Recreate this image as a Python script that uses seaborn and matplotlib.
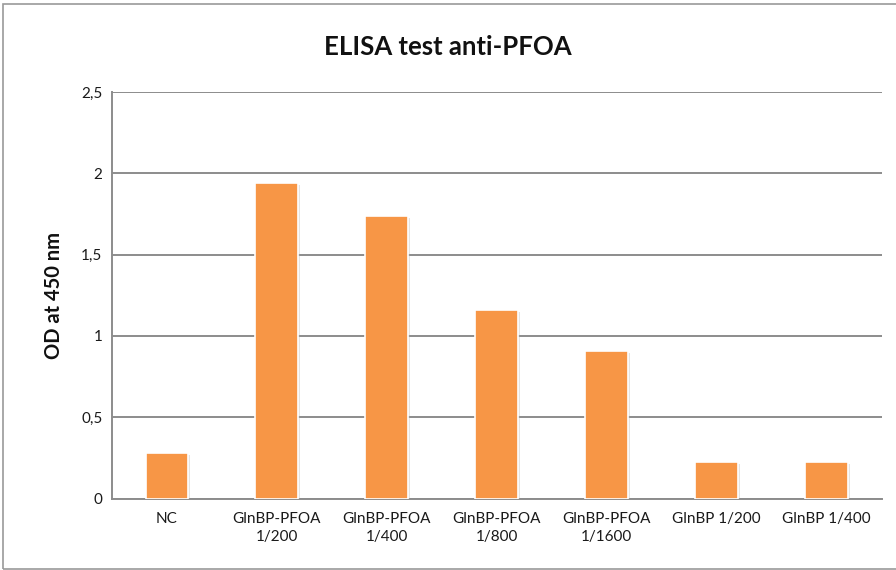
import matplotlib
matplotlib.use("Agg")
import matplotlib.pyplot as plt
import matplotlib.patheffects as pe
from matplotlib.patches import Rectangle
import seaborn as sns
import pandas as pd

categories = ["NC", "GlnBP-PFOA\n1/200", "GlnBP-PFOA\n1/400", "GlnBP-PFOA\n1/800",
              "GlnBP-PFOA\n1/1600", "GlnBP 1/200", "GlnBP 1/400"]
od_values = [0.28, 1.94, 1.74, 1.16, 0.905, 0.225, 0.225]
y_ticks = [0, 0.5, 1, 1.5, 2, 2.5]
y_tick_labels = ["0", "0,5", "1", "1,5", "2", "2,5"]

sns.set_theme(style="white")
plt.rcParams["font.family"] = ["Lato", "DejaVu Sans"]

df = pd.DataFrame({"sample": categories, "od": od_values})

fig = plt.figure(figsize=(8.96, 5.70), dpi=100)
ax = fig.add_axes([0.125, 0.1254, 0.859, 0.7132])

sns.barplot(data=df, x="sample", y="od", color="#F79646", saturation=1,
            width=0.39, edgecolor="white", linewidth=1.2, ax=ax)
for p in ax.patches:
    p.set_path_effects([pe.SimplePatchShadow(offset=(1.5, -1.5), shadow_rgbFace="#b0b0b0", alpha=0.35),
                        pe.Normal()])
    p.set_zorder(3)

ax.set_ylim(0, 2.5)
ax.set_xlim(-0.5, len(categories) - 0.5)
ax.set_yticks(y_ticks)
ax.set_yticklabels(y_tick_labels, fontsize=11, color="#1a1a1a")
ax.set_xticks(range(len(categories)))
ax.set_xticklabels(categories, fontsize=11, color="#1a1a1a", linespacing=1.3)
ax.tick_params(axis="both", length=0, pad=7)
ax.tick_params(axis="x", pad=10)

ax.yaxis.grid(True, color="#8c8c8c", linewidth=1.4)
ax.set_axisbelow(True)
for side in ["top", "right"]:
    ax.spines[side].set_visible(False)
for side in ["left", "bottom"]:
    ax.spines[side].set_color("#8c8c8c")
    ax.spines[side].set_linewidth(1.4)

ax.set_xlabel("")
ax.set_ylabel("OD at 450 nm", fontsize=14.5, fontweight="bold", labelpad=12, color="#111111")
fig.text(0.5, 0.917, "ELISA test anti-PFOA", ha="center", va="center",
         fontsize=18.5, fontweight="bold", color="#111111")

# chart area frame
fig.patches.append(Rectangle((0.0035, 0.0018), 1.2, 0.9912, transform=fig.transFigure,
                             fill=False, edgecolor="#9a9a9a", linewidth=1.2))

fig.savefig("out.png", dpi=100, facecolor="white")
